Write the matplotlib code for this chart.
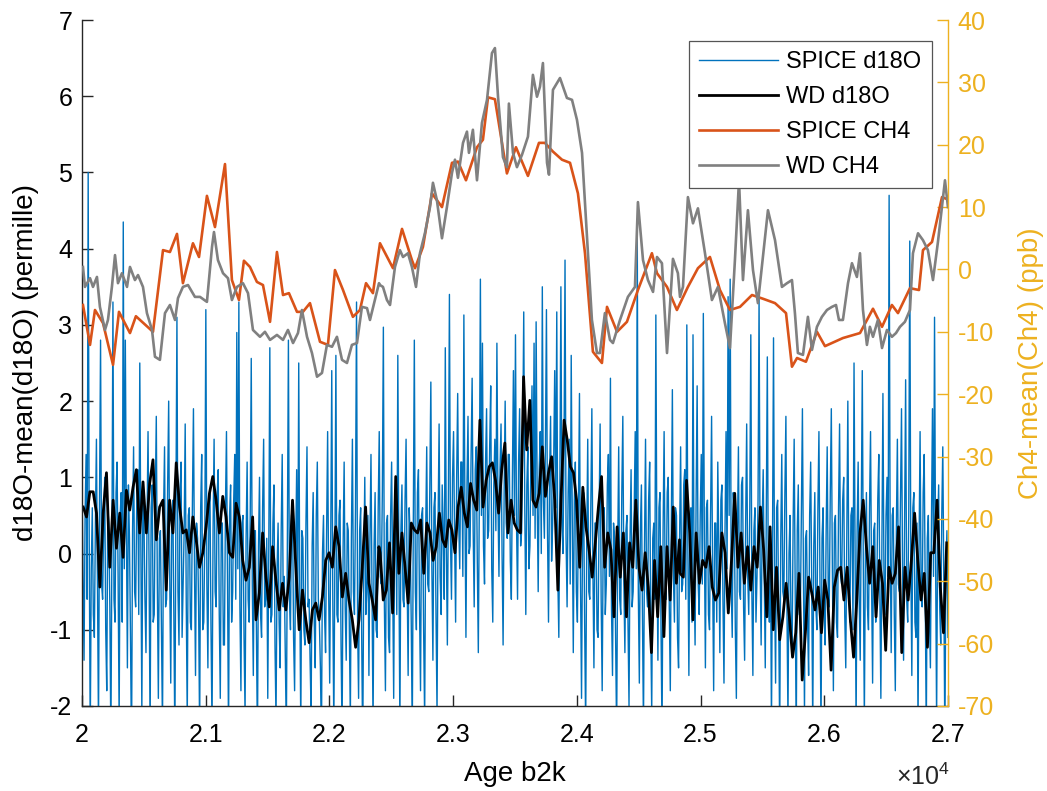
import numpy as np
import matplotlib
matplotlib.use('Agg')
import matplotlib.pyplot as plt
from matplotlib.ticker import FuncFormatter

plt.rcParams['font.family'] = ['Liberation Sans', 'DejaVu Sans']
plt.rcParams['mathtext.fontset'] = 'custom'
plt.rcParams['mathtext.rm'] = 'Liberation Sans'
plt.rcParams['axes.unicode_minus'] = False

# ---------------- data ----------------
# SPICE d18O (evenly sampled, 20000-27000 yr b2k)
spice_d18o = [
    0.9,-0.3, -1.4,0.5, 1.3,-0.6, 5.0,0.2, -2.4,-0.2, 0.6,-0.8, -1.1,0.4, 1.5,-0.5, -2.3,0.7, 2.8,-0.4,
    -0.6,0.3, 1.0,-1.0, -1.8,0.6, 0.4,-0.7, -2.5,0.1, 3.3,-0.6, -0.9,0.8, 1.2,-0.3, -2.2,0.5, 0.8,-0.9,
    4.35,-0.2, 2.8,0.4, -1.5,0.9, 0.2,-1.1, -2.6,0.3, 1.4,-0.5, -0.7,0.6, 1.1,-0.8, 2.5,0.1, -2.1,0.7,
    0.5,-0.6, -1.3,0.4, 1.6,-0.2, -2.4,0.6, 0.9,-0.9, -0.8,0.7, 1.8,-0.4, -1.9,0.2, 0.3,-1.0, -2.3,0.5,
    1.4,-0.7, -0.6,0.9, 2.0,-0.3, -1.7,0.4, 0.7,-0.8, -2.5,0.6, 3.1,-0.5, -1.2,0.8, 1.2,-1.1, -0.4,0.3,
    1.7,-0.6, -2.2,0.5, 0.6,-0.9, -1.0,0.7, 1.9,-0.2, -1.6,0.4, 0.2,-0.7, -2.4,0.6, 1.3,-1.0, -0.9,0.2,
    3.2,-0.4, -1.5,0.6, 0.8,-1.0, -2.3,0.3, 1.5,-0.5, -0.7,0.8, 1.1,-0.8, -1.9,0.4, 0.4,-1.2, -1.2,0.6,
    1.6,-0.3, -2.4,0.5, 0.9,-0.9, -0.5,0.7, 1.3,-0.6, 2.9,-0.2, 3.3,-0.7, -1.8,0.4, 0.5,-1.1, -2.1,0.2,
    1.2,-0.6, -0.9,0.5, 2.56,-0.4, -1.6,0.3, 0.3,-1.0, -2.5,0.1, 1.0,-0.8, -1.1,0.6, 1.5,-0.7, -0.6,0.2,
    -1.9,0.1, 2.7,-0.9, -0.8,0.4, 0.9,-1.2, -2.2,-0.2, 0.4,-0.9, -1.5,0.3, 1.3,-0.7, -0.3,-1.3, -2.4,0.2,
    2.8,-0.6, -1.0,0.5, 0.6,-1.1, -1.8,0.0, 1.1,-0.8, 2.5,-0.5, -2.3,0.3, 0.2,-1.0, -1.2,0.4, 1.4,-0.7,
    -0.6,-1.4, -2.1,0.1, 0.8,-0.9, -1.5,0.5, 1.2,-0.6, -0.9,-1.5, -2.5,0.0, 0.5,-0.8, -1.3,0.3, 1.6,-0.5,
    -1.7,0.2, 2.4,-0.6, -2.3,-0.1, 2.6,-0.8, -0.9,0.5, 0.7,-1.2, -2.4,0.1, 1.2,-0.7, -1.4,0.4, 0.3,-1.0,
    -2.2,0.2, 1.5,-0.5, -0.8,0.6, 3.3,-0.9, -1.9,0.3, 0.6,-1.1, -2.6,-0.2, 1.0,-0.8, -0.5,0.5, -1.6,0.2,
    1.3,-0.6, -2.3,0.1, 0.8,-1.0, -1.1,0.6, 1.6,-0.3, -0.4,0.8, 2.97,-0.7, -1.8,0.4, 0.5,-1.1, -1.3,0.5,
    1.2,-0.4, -1.9,0.5, 0.4,-0.8, 2.6,0.0, -2.3,0.3, 0.9,-0.6, -0.7,0.7, 1.5,-0.3, -1.6,0.6, 0.2,-0.9,
    -2.4,0.4, 2.8,-0.5, -1.0,0.8, 1.1,-0.7, -1.8,0.5, 0.6,-1.0, -2.2,0.3, 1.4,-0.4, -0.5,0.9, 2.25,-0.2,
    -1.4,0.6, 0.8,-0.8, -2.1,0.4, 1.7,-0.3, -0.8,0.9, 0.3,-0.6, 2.7,0.1, -1.2,0.7, 3.4,0.2, -0.6,1.0,
    1.6,0.2, -0.9,1.0, 2.1,0.4, -0.2,1.2, 1.2,-0.3, 3.13,0.6, -1.1,0.9, 1.8,0.0, 0.1,1.3, 2.3,0.3,
    -0.7,1.1, 1.4,-0.1, -1.3,0.8, 3.6,0.5, 2.76,0.1, -0.4,1.2, 1.9,0.2, 0.3,1.4, 2.2,-0.2, -0.9,0.9,
    1.5,0.3, 2.76,0.7, -0.3,1.1, 1.7,0.0, -1.2,0.8, 2.0,0.4, 0.2,1.3, 1.3,-0.1, -0.6,1.0, 2.4,0.5,
    2.87,0.4, -0.6,1.2, 1.9,0.1, 0.3,1.5, 3.17,0.6, -0.8,0.9, 1.4,-0.2, 0.1,1.3, 2.2,0.5, 2.76,0.2,
    3.04,0.8, -0.5,1.1, 1.6,0.0, 3.5,0.7, 0.2,1.4, 3.2,0.3, -0.9,1.0, 1.8,-0.1, 0.4,1.2, 2.4,0.6,
    3.17,-0.3, -1.1,0.9, 3.5,0.4, 0.0,1.3, 3.85,0.2, -0.7,0.8, 1.5,-0.4, 2.6,0.5, -1.3,0.7, 1.2,-0.5,
    -0.9,0.6, 2.1,-0.4, -1.9,0.3, 0.8,-0.9, -2.3,0.1, 1.5,-0.5, -0.6,0.7, 1.9,-0.2, -1.5,0.4, 0.4,-1.0,
    -1.1,0.5, 1.7,-0.6, -1.8,0.2, 0.6,-0.8, -0.4,0.9, 1.3,-0.3, 2.3,-0.7, -1.6,0.4, 0.2,-1.1, -2.4,0.0,
    1.4,-0.6, -0.8,0.8, 1.8,-0.4, -1.3,0.3, 0.5,-0.9, -2.0,0.2, 1.1,-0.7, -0.5,0.6, 1.6,-0.2, 4.15,-0.5,
    -1.7,0.3, 0.9,-0.8, -2.3,0.1, 1.5,-0.5, -0.7,0.7, 1.2,-0.9, -2.1,0.2, 0.4,-0.6, 3.13,0.0, -1.4,0.6,
    0.8,-1.0, -2.4,0.3, 1.6,-0.4, -0.6,0.8, 1.0,-0.7, -1.8,0.4, 2.15,-0.3, -0.9,0.6, 0.5,-1.1, -1.5,0.2,
    1.4,-0.5, -0.4,0.9, 1.1,-0.6, 3.0,0.1, -1.6,0.5, 0.6,-0.9, 2.87,-0.2, -1.2,0.7, 2.2,-0.4, -0.8,0.5,
    1.3,-0.4, 3.15,0.2, -1.5,0.6, 0.7,-0.8, -1.0,0.5, 1.8,-0.3, -1.8,0.4, 0.4,-0.9, 1.2,0.1, -1.3,0.7,
    0.9,-0.6, -1.7,0.3, 1.6,-0.2, 3.37,0.5, 3.6,-0.4, -1.1,0.8, 0.5,-1.0, -1.9,0.2, 1.4,-0.5, -0.6,0.9,
    1.0,-0.7, -1.4,0.4, 1.7,-0.3, -0.8,0.6, 2.87,-0.5, -1.6,0.3, 0.6,-0.9, -0.3,0.7, 3.37,-0.1, -1.2,0.4,
    1.1,-0.3, -1.5,0.5, 2.58,-0.6, -0.9,0.3, -2.3,0.1, 2.83,-0.4, -1.7,0.6, 0.7,-0.9, -2.4,0.2, 1.3,-0.5,
    -0.6,0.8, 1.8,-0.7, -2.2,0.0, 0.5,-1.0, -1.3,0.4, 1.5,-0.6, -2.5,0.3, 0.9,-0.8, -0.8,0.6, 1.9,-0.3,
    -2.1,0.2, 0.3,-0.9, -1.6,0.5, 1.2,-0.4, -2.3,0.1, 0.8,-0.7, -1.0,0.6, 1.6,-0.5, -2.4,0.2, 0.6,-0.8,
    -1.2,0.3, 1.4,-0.5, -0.7,0.8, 1.9,-0.2, -1.8,0.4, 0.5,-0.9, -1.1,0.6, 1.7,-0.3, -0.4,0.7, 1.0,-0.8,
    -1.5,0.2, 2.0,-0.4, -0.9,0.5, 0.6,-1.0, 2.5,0.1, -2.3,0.3, 1.2,-0.6, -1.4,0.5, 2.4,-0.2, -2.2,0.0,
    0.8,-0.7, -1.0,0.6, 1.6,-0.4, -1.7,0.3, 0.4,-0.9, -0.6,0.7, 1.3,-0.5, -1.9,0.2, 2.1,-0.3, -0.8,0.5,
    1.0,-0.3, 4.7,0.2, -1.3,0.5, 0.6,-0.8, -1.8,0.3, 1.5,-0.4, -0.5,0.7, 1.9,-0.2, -1.4,0.4, 2.28,-0.6,
    -0.9,0.5, 4.1,-0.1, -1.6,0.6, 0.8,-0.9, -1.1,0.4, -2.3,0.1, 1.6,-0.5, -0.7,0.8, 1.3,-0.6, -2.4,0.2,
    0.5,-0.8, -1.5,0.4, 1.9,-0.3, 3.1,0.0, -2.2,0.3, 0.9,-0.7, -1.2,0.5, 1.4,-0.4, -2.5,-0.2, 0.3,-1.1,
]
spice_d18o_age_range = (20000, 27000)

# WD d18O, three evenly sampled stretches
wd_d18o_part1 = [
    0.61, 0.48, 0.81, 0.81, 0.53, -0.44, 0.53, 1.06, -0.18, 0.70, 0.07, 0.53, -0.05, 0.83, 0.57, 0.87, 1.10, 0.27,
    0.94, 0.27, 0.92, 1.23, 0.18, 0.61, 0.70, -0.48, 0.70, 0.27, 1.19, 0.61, 0.27, 0.31, 0.01, 0.48, 0.18, -0.18,
    0.01, 0.35, 0.79, 1.01, 0.70, 0.27, 0.75, 0.48, 0.01, -0.05, 0.66, 0.48, -0.09, -0.35, -0.18, 0.48, -0.87,
    -0.52, 0.27, -0.31, -0.70, 0.09, -0.35, -0.74, -0.39, -0.74, -0.31, 0.70, -0.18, -1.0, -0.48, -0.87, -1.17,
    -0.74, -0.65, -0.87, -0.57, -0.09, 0.01, -0.18, 0.35, 0.09, -0.57, -0.26, -0.61, -0.87, -1.23, -0.87, -0.18,
    0.61, -0.39, -0.61, -0.87, 0.09,
]
wd_d18o_part2 = [
    0.01, -0.61, -0.48, 0.14, -0.78, 1.01, -0.26, 0.27, -0.18, -0.65, 0.40, 0.31, 0.27, 0.44, -0.26, 0.40, 0.27,
    -0.09, 0.09, 0.53, 0.18, 0.09, 0.44, 0.31, 0.01, 0.61, 0.87, 0.53, 0.35, 0.92, 0.70, 0.57, 1.75, 0.61, 0.96,
    1.14, 1.19, 0.96, 0.53, 1.10, 1.45, 0.27, 0.70, 0.40, 0.31, 0.27, 2.32, 1.36, 2.01, 0.70, 0.61, 0.79, 1.40,
    0.75, 1.06, 1.27, 0.70, -0.48, 0.70, 1.75, 1.49, 1.14, 1.06, 0.70, -0.18, 0.87, 0.35, 0.05, -0.31, 0.14, 0.61,
    1.01, -0.18, 0.27, 0.05, -0.83, 0.35, -0.31, 0.27, -0.83, 0.14, -0.18, 0.70, -0.18, -0.48, 0.01, -0.44, -1.30,
    -0.09, -0.83, 0.09, -1.09, 0.09, -0.61, 0.61, -0.39, 0.18,
]
wd_d18o_part3 = [
    -0.26, -0.31, 0.96, 0.27, -0.87, 0.27, -0.39, -0.09, -0.18, 0.09, -0.44, -0.61, -0.52, 0.27, 0.01, -0.78,
    -0.09, 0.79, -0.18, 0.27, -0.39, 0.09, -0.48, 0.09, -0.18, 0.61, 0.05, -0.83, 0.35, -1.0, -0.18, -1.13, -0.83,
    -0.39, -0.83, -1.36, -1.04, -0.26, -1.66, -1.04, -0.31, -0.52, -0.74, -0.44, -1.04, -0.35, -0.61, -1.53,
    -0.44, -0.22, -0.18, -0.61, -0.18, -0.87, -1.36, -0.61, 0.27, 0.70, 0.09, -0.39, 0.09, -0.83, -0.09, -0.39,
    -1.27, -0.18, -0.39, -0.26, 0.35, -1.30, -0.18, -0.61, -0.09, 0.53, -0.09, -0.61, -0.26, -1.23, 0.01, 0.01,
    0.70, -0.44, -1.04, 0.14,
]
wd_d18o_part_ranges = [(20010, 22400), (22410, 24830), (24835, 26990)]

# SPICE CH4
spice_ch4_age = [
    20008, 20065, 20105, 20170, 20251, 20299, 20388, 20436, 20574, 20655, 20711, 20768, 20816, 20897, 20946,
    21010, 21075, 21156, 21212, 21269, 21309, 21358, 21414, 21463, 21520, 21576, 21625, 21673, 21738, 21786,
    21843, 21924, 21988, 22045, 22110, 22190, 22247, 22296, 22352, 22409, 22514, 22587, 22667, 22692, 22756,
    22829, 22910, 22991, 23039, 23104, 23193, 23241, 23282, 23338, 23435, 23508, 23605, 23694, 23742, 23807,
    23880, 23945, 24009, 24066, 24130, 24203, 24244, 24325, 24405, 24494, 24607, 24648, 24729, 24809, 24898,
    24979, 25076, 25157, 25238, 25319, 25416, 25505, 25602, 25691, 25739, 25780, 25852, 25941, 26006, 26151,
    26289, 26394, 26467, 26547, 26596, 26693, 26766, 26798, 26871, 26952, 27016,
]
spice_ch4 = [
    -5.7, -12.1, -6.5, -8.6, -15.3, -6.8, -10.2, -7.5, -10.0, 3.1, 2.8, 5.7, -2.2, 4.2, 2.0,
    11.8, 6.8, 16.9, -1.7, -4.9, 1.4, 0.4, -2.0, -2.5, -8.4, 2.8, -4.1, -3.8, -6.8, -6.8,
    -5.4, -11.6, -12.1, -0.1, -3.3, -7.6, -6.5, -2.2, -3.8, 4.2, 0.2, 6.5, 1.5, 0.2, 3.6,
    12.2, 10.0, 17.1, 17.3, 14.3, 19.6, 20.8, 27.6, 27.3, 15.4, 19.6, 15.0, 20.3, 20.3, 18.9,
    17.6, 17.1, 12.2, 2.6, -13.2, -15.0, -6.0, -10.0, -8.4, -3.3, 2.6, -0.6, -2.8, -6.5, -2.8,
    0.2, 2.0, -3.3, -6.5, -6.0, -4.1, -4.7, -5.4, -7.0, -15.6, -14.2, -14.8, -10.0, -12.3, -11.0,
    -10.2, -6.3, -9.2, -5.7, -7.0, -3.0, -3.3, 3.1, 4.4, 11.6, 11.1,
]

# WD CH4
wd_ch4_age = [
    20008, 20024, 20065, 20089, 20121, 20145, 20186, 20210, 20242, 20267, 20291, 20323, 20364, 20388, 20428,
    20453, 20493, 20525, 20566, 20590, 20630, 20671, 20711, 20752, 20776, 20816, 20857, 20913, 20954, 21010,
    21051, 21067, 21099, 21140, 21180, 21212, 21253, 21301, 21342, 21382, 21439, 21479, 21520, 21576, 21625,
    21665, 21706, 21746, 21778, 21819, 21859, 21900, 21940, 21980, 22021, 22061, 22102, 22142, 22182, 22223,
    22263, 22304, 22328, 22368, 22401,
    22409, 22433, 22465, 22490, 22530, 22570, 22595, 22635, 22667, 22700, 22732, 22772, 22813, 22837, 22869,
    22910, 22950, 22991, 23015, 23039, 23080, 23112, 23128, 23160, 23193, 23233, 23274, 23314, 23338, 23363,
    23403, 23435, 23451, 23484, 23516, 23557, 23605, 23645, 23678, 23702, 23726, 23759, 23775, 23807, 23864,
    23920, 23961, 24001, 24042, 24082, 24122, 24163, 24187, 24227, 24268, 24292, 24349, 24413, 24470, 24494,
    24535, 24575, 24616, 24648, 24688, 24729, 24777, 24817,
    24834, 24858, 24898, 24939, 24979, 25036, 25092, 25141, 25197, 25238, 25278, 25311, 25343, 25383, 25424,
    25464, 25545, 25602, 25658, 25699, 25739, 25763, 25787, 25828, 25868, 25901, 25941, 25981, 26022, 26062,
    26095, 26119, 26151, 26192, 26224, 26264, 26289, 26313, 26345, 26369, 26394, 26434, 26467, 26507, 26547,
    26580, 26612, 26652, 26693, 26717, 26758, 26798, 26838, 26879, 26919, 26960, 26976, 27000,
]
wd_ch4 = [
    0.4, -2.8, -1.4, -2.8, -1.2, -6.0, -9.7, -8.1, -2.8, 2.3, -2.2, -0.6, -2.8, 0.4, -1.7,
    -0.9, -2.8, -7.0, -9.7, -14.0, -14.5, -7.0, -5.7, -8.1, -4.6, -2.8, -2.5, -4.4, -4.4, -5.2,
    3.6, 6.0, 1.5, -0.6, -1.4, -4.9, -2.8, -2.2, -3.8, -9.7, -10.8, -10.0, -11.3, -10.5, -11.3,
    -9.7, -11.8, -10.2, -6.5, -10.8, -13.4, -17.2, -16.6, -12.1, -12.4, -10.8, -14.5, -15.0, -12.1, -11.8,
    -6.0, -6.2, -8.1, -4.9, -2.2,
    -2.5, -2.8, -4.9, -5.7, 0.4, 3.1, 2.0, 2.6, 0.4, -2.8, 2.6, 5.8, 10.0, 13.9, 11.1,
    5.0, 10.0, 15.5, 17.6, 14.7, 20.3, 22.1, 18.7, 22.4, 14.3, 23.5, 27.2, 34.7, 35.5, 27.7,
    18.0, 16.4, 26.6, 18.7, 16.4, 18.4, 21.3, 31.2, 27.7, 29.3, 33.1, 17.1, 15.2, 28.8, 30.7,
    27.5, 27.2, 24.0, 18.7, 5.2, -8.1, -13.4, -13.4, -7.0, -11.3, -11.8, -8.1, -4.4, -2.8, 10.8,
    1.5, -1.7, -3.6, 2.0, 1.0, -13.4, 1.7, -0.6,
    -4.4, -2.8, 11.6, 7.4, 9.8, 2.6, -4.9, -2.8, -8.6, -12.6, 1.5, 14.3, -1.7, 9.5, -0.1,
    -5.4, 9.5, 4.7, -2.8, -2.2, -1.7, -7.0, -13.4, -13.7, -7.6, -12.9, -9.2, -7.6, -6.5, -6.0,
    -5.7, -8.1, -8.1, -2.2, 1.0, -1.2, 2.6, -6.5, -12.1, -9.2, -10.8, -8.1, -12.6, -9.7, -10.8,
    -10.2, -9.2, -8.4, -6.5, 2.6, 5.8, 4.7, 3.1, -1.7, 4.4, 11.6, 14.3, 10.0,
]

x_ticks = [20000, 21000, 22000, 23000, 24000, 25000, 26000, 27000]
left_ticks = [-2, -1, 0, 1, 2, 3, 4, 5, 6, 7]
right_ticks = [-70, -60, -50, -40, -30, -20, -10, 0, 10, 20, 30, 40]

# ---------------- styling ----------------
BLUE = '#0072BD'
ORANGE = '#D95319'
GRAY = '#808080'
YELLOW = '#EDB120'
AXC = '#262626'

spice_age = np.linspace(spice_d18o_age_range[0], spice_d18o_age_range[1], len(spice_d18o))
wd_parts = [wd_d18o_part1, wd_d18o_part2, wd_d18o_part3]
wd_age = np.concatenate([np.linspace(a, b, len(p)) for (a, b), p in zip(wd_d18o_part_ranges, wd_parts)])
wd_vals = np.concatenate(wd_parts)

fig = plt.figure(figsize=(10.47, 7.91), dpi=100)
ax = fig.add_axes([0.0783, 0.1075, 0.8271, 0.8672])
ax2 = ax.twinx()

l1, = ax.plot(spice_age, spice_d18o, color=BLUE, lw=1.0, label='SPICE d18O')
l2, = ax.plot(wd_age, wd_vals, color='black', lw=2.0, label='WD d18O')
l3, = ax2.plot(spice_ch4_age, spice_ch4, color=ORANGE, lw=1.9, label='SPICE CH4')
l4, = ax2.plot(wd_ch4_age, wd_ch4, color=GRAY, lw=1.9, label='WD CH4')

ax.set_xlim(20000, 27000)
ax.set_ylim(-2, 7)
ax2.set_ylim(-70, 40)

ax.set_xticks(x_ticks)
ax.xaxis.set_major_formatter(FuncFormatter(lambda v, p: f"{v/1e4:g}"))
ax.set_yticks(left_ticks)
ax2.set_yticks(right_ticks)

for s in ['top', 'right']:
    ax.spines[s].set_visible(False)
for s in ['top', 'left', 'bottom']:
    ax2.spines[s].set_visible(False)
ax.spines['left'].set_color(AXC)
ax.spines['bottom'].set_color(AXC)
ax2.spines['right'].set_color(YELLOW)
for sp in [ax.spines['left'], ax.spines['bottom'], ax2.spines['right']]:
    sp.set_linewidth(1.0)

ax.tick_params(axis='both', direction='in', length=8, width=1, colors=AXC, labelsize=18, labelcolor='black')
ax.tick_params(axis='x', pad=12, top=False)
ax.tick_params(axis='y', pad=7, right=False)
ax2.tick_params(axis='y', direction='in', length=8, width=1, colors=YELLOW, labelsize=18, pad=7)

ax.set_xlabel('Age b2k', fontsize=20, labelpad=10)
ax.set_ylabel('d18O-mean(d18O) (permille)', fontsize=20, labelpad=8)
ax2.set_ylabel('Ch4-mean(Ch4) (ppb)', fontsize=20, color=YELLOW, labelpad=17)

fig.text(950 / 1047, 1 - 790 / 791, r'$\mathregular{\times10^{4}}$', ha='right', va='bottom', fontsize=18, color=AXC)

leg = ax2.legend(handles=[l1, l2, l3, l4], loc='upper right', bbox_to_anchor=(0.981, 0.969),
                 borderaxespad=0, fontsize=17, handlelength=3.35, handletextpad=0.35,
                 labelspacing=0.55, borderpad=0.42, fancybox=False, framealpha=1)
leg.get_frame().set_edgecolor('#555555')
leg.get_frame().set_linewidth(0.9)

fig.savefig('out.png', dpi=100)
